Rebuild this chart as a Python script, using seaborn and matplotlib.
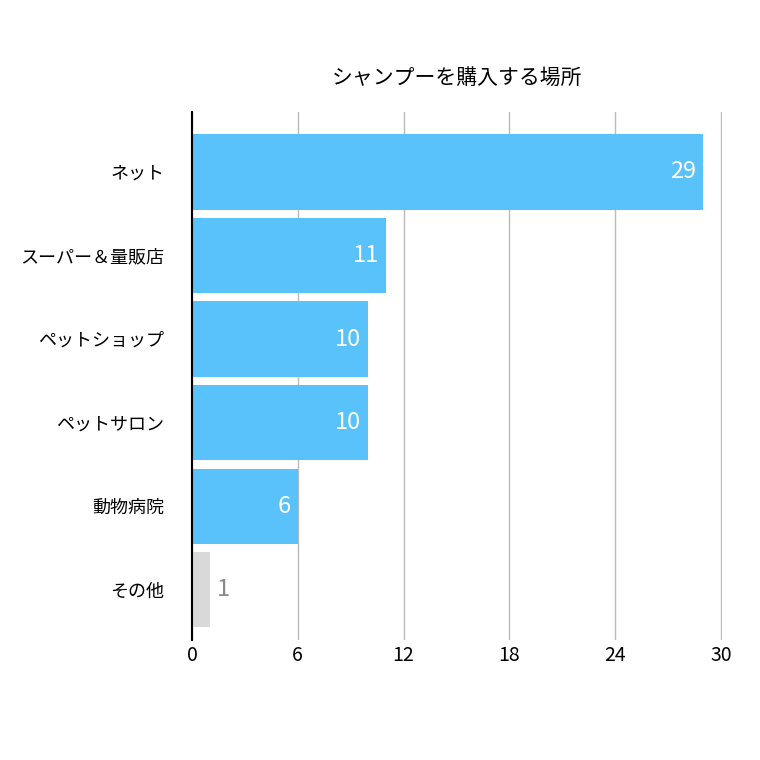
import matplotlib
matplotlib.use("Agg")
import matplotlib.pyplot as plt
import seaborn as sns
import pandas as pd

plt.rcParams["font.family"] = "Noto Sans CJK JP"

places = ["ネット", "スーパー＆量販店", "ペットショップ", "ペットサロン", "動物病院", "その他"]
counts = [29, 11, 10, 10, 6, 1]
colors = ["#5AC2FB"] * 5 + ["#D9D9D9"]
xticks = [0, 6, 12, 18, 24, 30]

df = pd.DataFrame({"place": places, "count": counts})

fig = plt.figure(figsize=(7.6, 7.6), dpi=100)
ax = fig.add_axes([0.2526, 0.158, 0.697, 0.695])
sns.barplot(data=df, y="place", x="count", hue="place", palette=colors,
            legend=False, width=0.9, ax=ax, saturation=1)

for i, v in enumerate(counts):
    if v > 2:
        ax.text(v - 0.4, i, str(v), color="white", ha="right", va="center", fontsize=17)
    else:
        ax.text(v + 0.4, i, str(v), color="#888888", ha="left", va="center", fontsize=17)

ax.set_xlim(0, 30.05)
ax.set_ylim(5.6, -0.72)
ax.set_xticks(xticks)
ax.grid(axis="x", color="#BBBBBB", linewidth=1)
ax.set_axisbelow(True)
for s in ["top", "right", "bottom"]:
    ax.spines[s].set_visible(False)
ax.spines["left"].set_color("black")
ax.spines["left"].set_linewidth(1.5)
ax.tick_params(length=0, labelsize=13)
ax.tick_params(axis="y", pad=20)
ax.tick_params(axis="x", labelsize=14)
ax.set_xlabel("")
ax.set_ylabel("")
ax.set_title("シャンプーを購入する場所", fontsize=15, pad=20)

fig.savefig("out.png", dpi=100)
